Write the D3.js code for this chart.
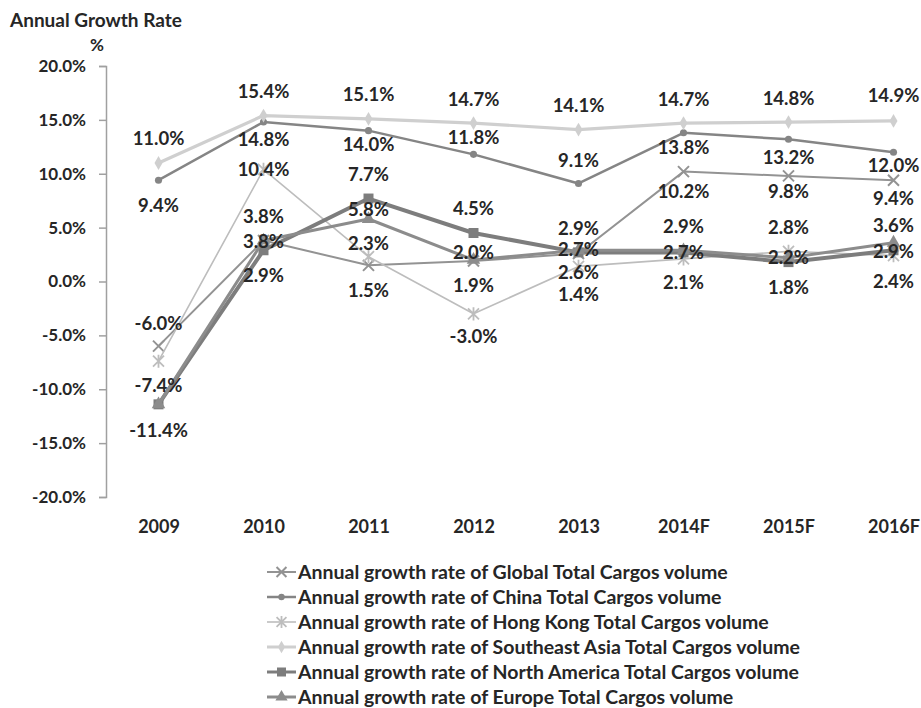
<!DOCTYPE html>
<html>
<head>
<meta charset="utf-8">
<script src="https://cdn.jsdelivr.net/npm/d3@7"></script>
<style>
  html, body { margin: 0; padding: 0; background: #ffffff; }
  svg { display: block; }
  text { font-family: Lato, "Open Sans", sans-serif; font-weight: 700; fill: #262626; }
</style>
</head>
<body>
<svg id="chart" width="921" height="708"></svg>
<script>
// ---- data ----
const categories = ["2009", "2010", "2011", "2012", "2013", "2014F", "2015F", "2016F"];
const globalRate       = [-6.0, 3.8, 1.5, 1.9, 2.6, 10.2, 9.8, 9.4];
const chinaRate        = [9.4, 14.8, 14.0, 11.8, 9.1, 13.8, 13.2, 12.0];
const hongKongRate     = [-7.4, 10.4, 2.3, -3.0, 1.4, 2.1, 2.8, 2.4];
const seAsiaRate       = [11.0, 15.4, 15.1, 14.7, 14.1, 14.7, 14.8, 14.9];
const northAmericaRate = [-11.4, 2.9, 7.7, 4.5, 2.7, 2.7, 1.8, 2.9];
const europeRate       = [-11.4, 3.8, 5.8, 2.0, 2.9, 2.9, 2.2, 3.6];
const yTickValues = [-20, -15, -10, -5, 0, 5, 10, 15, 20];
const seriesNames = [
  "Annual growth rate of Global Total Cargos volume",
  "Annual growth rate of China Total Cargos volume",
  "Annual growth rate of Hong Kong Total Cargos volume",
  "Annual growth rate of Southeast Asia Total Cargos volume",
  "Annual growth rate of North America Total Cargos volume",
  "Annual growth rate of Europe Total Cargos volume"
];

// ---- layout: vertical offset of each value label from its point (null = no label) ----
const labelOffsets = [
  [-23, 1, 25, 24, 19, 20, 16, 18],
  [25, 17, 14, -17, -23, 15, 18, 13],
  [24, 0, -13, 23, 28, 24, -24, 26],
  [-24, -24, -24, -24, -24, -24, -24, -25],
  [26, 25, -24, -24, -3, 0, 25, 1],
  [null, -24, -9, -7, -22, -24, 0, -17]
];

const styles = [
  { color: "#939393", width: 2,   marker: "x" },
  { color: "#858585", width: 2.5, marker: "circle" },
  { color: "#bdbdbd", width: 1.6, marker: "star" },
  { color: "#cfcfcf", width: 3.2, marker: "diamond" },
  { color: "#7d7d7d", width: 4,   marker: "square" },
  { color: "#8c8c8c", width: 3,   marker: "triangle" }
];

const seriesValues = [globalRate, chinaRate, hongKongRate, seAsiaRate, northAmericaRate, europeRate];

const svg = d3.select("#chart");

const x = d3.scalePoint().domain(categories).range([106, 946]).padding(0.5);
const y = d3.scaleLinear().domain([-20, 20]).range([497, 66]);

// titles
svg.append("text").attr("x", 10).attr("y", 20).attr("dy", "0.35em")
  .style("font-size", "19px").text("Annual Growth Rate");
svg.append("text").attr("x", 97).attr("y", 45).attr("dy", "0.35em")
  .attr("text-anchor", "middle").style("font-size", "17px").text("%");

// y axis
const yAxis = svg.append("g").attr("transform", "translate(106,0)")
  .call(d3.axisLeft(y).tickValues(yTickValues).tickSize(7).tickPadding(13)
    .tickFormat(d => d.toFixed(1) + "%"));
yAxis.select(".domain").attr("stroke", "#a0a0a0").attr("stroke-width", 1.5);
yAxis.selectAll(".tick line").attr("stroke", "#a0a0a0").attr("stroke-width", 1.5);
yAxis.selectAll(".tick text").style("font-size", "17px").style("font-family", null).attr("fill", "#262626");

// x axis labels (no axis line)
const xAxis = svg.append("g").attr("transform", "translate(0,527)")
  .call(d3.axisBottom(x).tickSize(0).tickPadding(0));
xAxis.select(".domain").remove();
xAxis.selectAll(".tick text").attr("y", 0).attr("dy", "0.35em")
  .style("font-size", "18px").style("font-family", null).attr("fill", "#262626");

// marker drawing
function drawMarker(g, kind, color, cx, cy, scale) {
  const s = scale || 1;
  if (kind === "x") {
    const r = 5.5 * s;
    g.append("path").attr("d", `M${cx - r},${cy - r}L${cx + r},${cy + r}M${cx - r},${cy + r}L${cx + r},${cy - r}`)
      .attr("stroke", color).attr("stroke-width", 2).attr("fill", "none");
  } else if (kind === "star") {
    const r = 5.5 * s;
    g.append("path").attr("d", `M${cx - r},${cy - r}L${cx + r},${cy + r}M${cx - r},${cy + r}L${cx + r},${cy - r}M${cx},${cy - r * 1.2}L${cx},${cy + r * 1.2}`)
      .attr("stroke", color).attr("stroke-width", 1.8).attr("fill", "none");
  } else {
    const typeMap = { circle: d3.symbolCircle, diamond: d3.symbolDiamond, square: d3.symbolSquare, triangle: d3.symbolTriangle };
    const sizeMap = { circle: 40, diamond: 55, square: 100, triangle: 80 };
    g.append("path").attr("d", d3.symbol().type(typeMap[kind]).size(sizeMap[kind] * s * s)())
      .attr("transform", `translate(${cx},${cy})`).attr("fill", color);
  }
}

// series lines and markers
const line = d3.line().x((d, i) => x(categories[i])).y(d => y(d));
const plot = svg.append("g");
seriesValues.forEach((vals, si) => {
  const st = styles[si];
  const g = plot.append("g");
  g.append("path").datum(vals).attr("d", line)
    .attr("fill", "none").attr("stroke", st.color).attr("stroke-width", st.width)
    .attr("stroke-linejoin", "round");
  vals.forEach((v, i) => drawMarker(g, st.marker, st.color, x(categories[i]), y(v), 1));
});

// value labels
const labels = svg.append("g");
seriesValues.forEach((vals, si) => {
  vals.forEach((v, i) => {
    const off = labelOffsets[si][i];
    if (off === null) return;
    labels.append("text")
      .attr("x", x(categories[i])).attr("y", y(v) + off).attr("dy", "0.35em")
      .attr("text-anchor", "middle").style("font-size", "18.5px")
      .text(v.toFixed(1) + "%");
  });
});

// legend
const legend = svg.append("g");
seriesNames.forEach((name, si) => {
  const st = styles[si];
  const ly = 572 + si * 25;
  const row = legend.append("g");
  row.append("line").attr("x1", 267).attr("x2", 296).attr("y1", ly).attr("y2", ly)
    .attr("stroke", st.color).attr("stroke-width", Math.min(st.width, 3));
  drawMarker(row, st.marker, st.color, 281.5, ly, 0.9);
  row.append("text").attr("x", 298).attr("y", ly).attr("dy", "0.35em")
    .style("font-size", "19.5px").text(name);
});
</script>
</body>
</html>
